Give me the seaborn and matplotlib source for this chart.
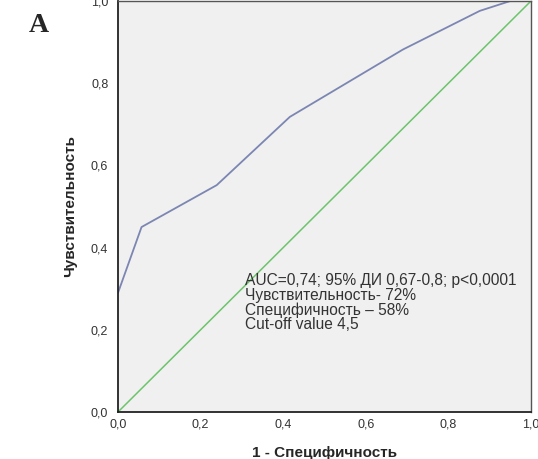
import matplotlib
matplotlib.use("Agg")
import matplotlib.pyplot as plt
import seaborn as sns
import pandas as pd
from matplotlib.ticker import FuncFormatter

# ROC curve points
fpr = [0.0, 0.057, 0.239, 0.416, 0.69, 0.876, 0.95, 1.0]
tpr = [0.29, 0.45, 0.552, 0.718, 0.882, 0.976, 1.0, 1.0]
ref_line = [0.0, 1.0]
ticks = [0.0, 0.2, 0.4, 0.6, 0.8, 1.0]

annotation_lines = [
    "AUC=0,74; 95% ДИ 0,67-0,8; p<0,0001",
    "Чувствительность- 72%",
    "Специфичность – 58%",
    "Cut-off value 4,5",
]

sns.set_style("white")
plt.rcParams["font.family"] = ["Liberation Sans", "DejaVu Sans"]

fig = plt.figure(figsize=(5.38, 4.59), dpi=100)
ax = fig.add_axes([118 / 538, 1 - 412 / 459, 413 / 538, 411 / 459])
ax.set_facecolor("#f0f0f0")

roc = pd.DataFrame({"fpr": fpr, "tpr": tpr})
diag = pd.DataFrame({"x": ref_line, "y": ref_line})
sns.lineplot(data=diag, x="x", y="y", ax=ax, color="#6cc46c", linewidth=1.1)
sns.lineplot(data=roc, x="fpr", y="tpr", ax=ax, sort=False, color="#7c86b2", linewidth=1.3)

ax.set_xlim(0, 1)
ax.set_ylim(0, 1)
ax.set_xticks(ticks)
ax.set_yticks(ticks)
fmt = FuncFormatter(lambda v, p: f"{v:.1f}".replace(".", ","))
ax.xaxis.set_major_formatter(fmt)
ax.yaxis.set_major_formatter(fmt)
ax.tick_params(axis="both", direction="out", length=5, width=1, color="#333333",
               labelsize=9, labelcolor="#333333")
ax.tick_params(axis="x", pad=0)
ax.tick_params(axis="y", pad=2)
for s in ax.spines.values():
    s.set_color("#555555")
    s.set_linewidth(1.0)
for s in ("left", "bottom"):
    ax.spines[s].set_color("#222222")
    ax.spines[s].set_linewidth(1.3)

ax.set_xlabel("1 - Специфичность", fontsize=11, fontweight="bold", labelpad=11)
ax.set_ylabel("Чувствительность", fontsize=11, fontweight="bold", labelpad=10)

ax.text(0.308, 0.337, "\n".join(annotation_lines), transform=ax.transAxes,
        fontsize=11.2, color="#333333", va="top", ha="left", linespacing=0.95)

fig.text(29 / 538, 1 - 25 / 459, "A", fontsize=20, fontweight="bold",
         family=["Liberation Serif", "DejaVu Serif"], va="center", ha="left")

fig.savefig("out.png", dpi=100)
